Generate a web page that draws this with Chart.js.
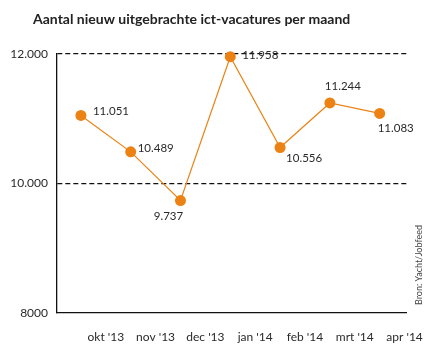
<!DOCTYPE html>
<html>
<head>
<meta charset="utf-8">
<script src="https://cdn.jsdelivr.net/npm/chart.js@4.4.0/dist/chart.umd.min.js"></script>
<style>
  html, body { margin: 0; padding: 0; background: #fff; }
  #wrap { width: 440px; height: 352px; position: relative; }
</style>
</head>
<body>
<div id="wrap"><canvas id="myChart" width="440" height="352"></canvas></div>
<script>
// data
const months = ['okt \'13', 'nov \'13', 'dec \'13', 'jan \'14', 'feb \'14', 'mrt \'14', 'apr \'14'];
const vacatures = [11051, 10489, 9737, 11958, 10556, 11244, 11083];
const yTicks = [8000, 10000, 12000];
const yTickLabels = ['8000', '10.000', '12.000'];

const title = 'Aantal nieuw uitgebrachte ict-vacatures per maand';
const source = 'Bron: Yacht/Jobfeed';

// where each value label sits relative to its point: dx, dy, align
const labelPlace = [
  [12, -4, 'left'], [7, -4, 'left'], [-12, 16, 'center'], [12, -1, 'left'],
  [6, 11, 'left'], [13, -17, 'center'], [-2, 15, 'left']
];

const orange = '#ec8213';
const font = 'Lato, "Open Sans", sans-serif';

function dutch(n) {
  return String(n).replace(/\B(?=(\d{3})+(?!\d))/g, '.');
}

const textPlugin = {
  id: 'texts',
  afterDatasetsDraw(chart) {
    const ctx = chart.ctx;
    const meta = chart.getDatasetMeta(0);
    ctx.save();
    ctx.fillStyle = '#2a2a2a';
    ctx.font = '11.5px ' + font;
    ctx.textBaseline = 'middle';
    meta.data.forEach((pt, i) => {
      const p = labelPlace[i];
      ctx.textAlign = p[2];
      ctx.fillText(dutch(vacatures[i]), pt.x + p[0], pt.y + p[1]);
    });
    ctx.restore();
  },
  afterDraw(chart) {
    const ctx = chart.ctx;
    ctx.save();
    ctx.fillStyle = '#222';
    ctx.font = 'bold 14px ' + font;
    ctx.textBaseline = 'middle';
    ctx.textAlign = 'left';
    ctx.fillText(title, 33, 19);

    ctx.translate(419, 265);
    ctx.rotate(-Math.PI / 2);
    ctx.fillStyle = '#444';
    ctx.font = '9px ' + font;
    ctx.textAlign = 'center';
    ctx.fillText(source, 0, 0);
    ctx.restore();
  }
};

const data = {
  datasets: [{
    data: vacatures.map((v, i) => ({ x: i, y: v })),
    borderColor: orange,
    borderWidth: 1.2,
    backgroundColor: orange,
    pointBackgroundColor: orange,
    pointBorderWidth: 0,
    pointRadius: 5.5,
    tension: 0,
    clip: false
  }]
};

const config = {
  type: 'line',
  data: data,
  options: {
    responsive: false,
    animation: false,
    layout: { padding: { top: 54, right: 32, left: 0, bottom: 0 } },
    plugins: { legend: { display: false }, tooltip: { enabled: false } },
    scales: {
      x: {
        type: 'linear',
        min: -0.48,
        max: 6.54,
        afterBuildTicks: (scale) => { scale.ticks = months.map((m, i) => ({ value: i + 0.5 })); },
        afterFit: (scale) => { scale.height = 39; },
        grid: { display: false, drawTicks: false },
        border: { display: true, color: '#111', width: 1.3 },
        ticks: {
          autoSkip: false,
          maxRotation: 0,
          padding: 17,
          color: '#2a2a2a',
          font: { family: font, size: 12 },
          callback: (v, i) => months[i]
        }
      },
      y: {
        min: 8000,
        max: 12000,
        afterBuildTicks: (scale) => { scale.ticks = yTicks.map(v => ({ value: v })); },
        afterFit: (scale) => { scale.width = 57; },
        grid: {
          drawTicks: false,
          color: (c) => (c.tick && c.tick.value === 8000) ? 'rgba(0,0,0,0)' : '#111',
          lineWidth: 1.2
        },
        border: { display: true, color: '#111', width: 1.3, dash: [5, 3] },
        ticks: {
          padding: 9,
          color: '#2a2a2a',
          font: { family: font, size: 12 },
          callback: (v, i) => yTickLabels[i]
        }
      }
    }
  },
  plugins: [textPlugin]
};

const myChart = new Chart(document.getElementById('myChart'), config);
</script>
</body>
</html>
